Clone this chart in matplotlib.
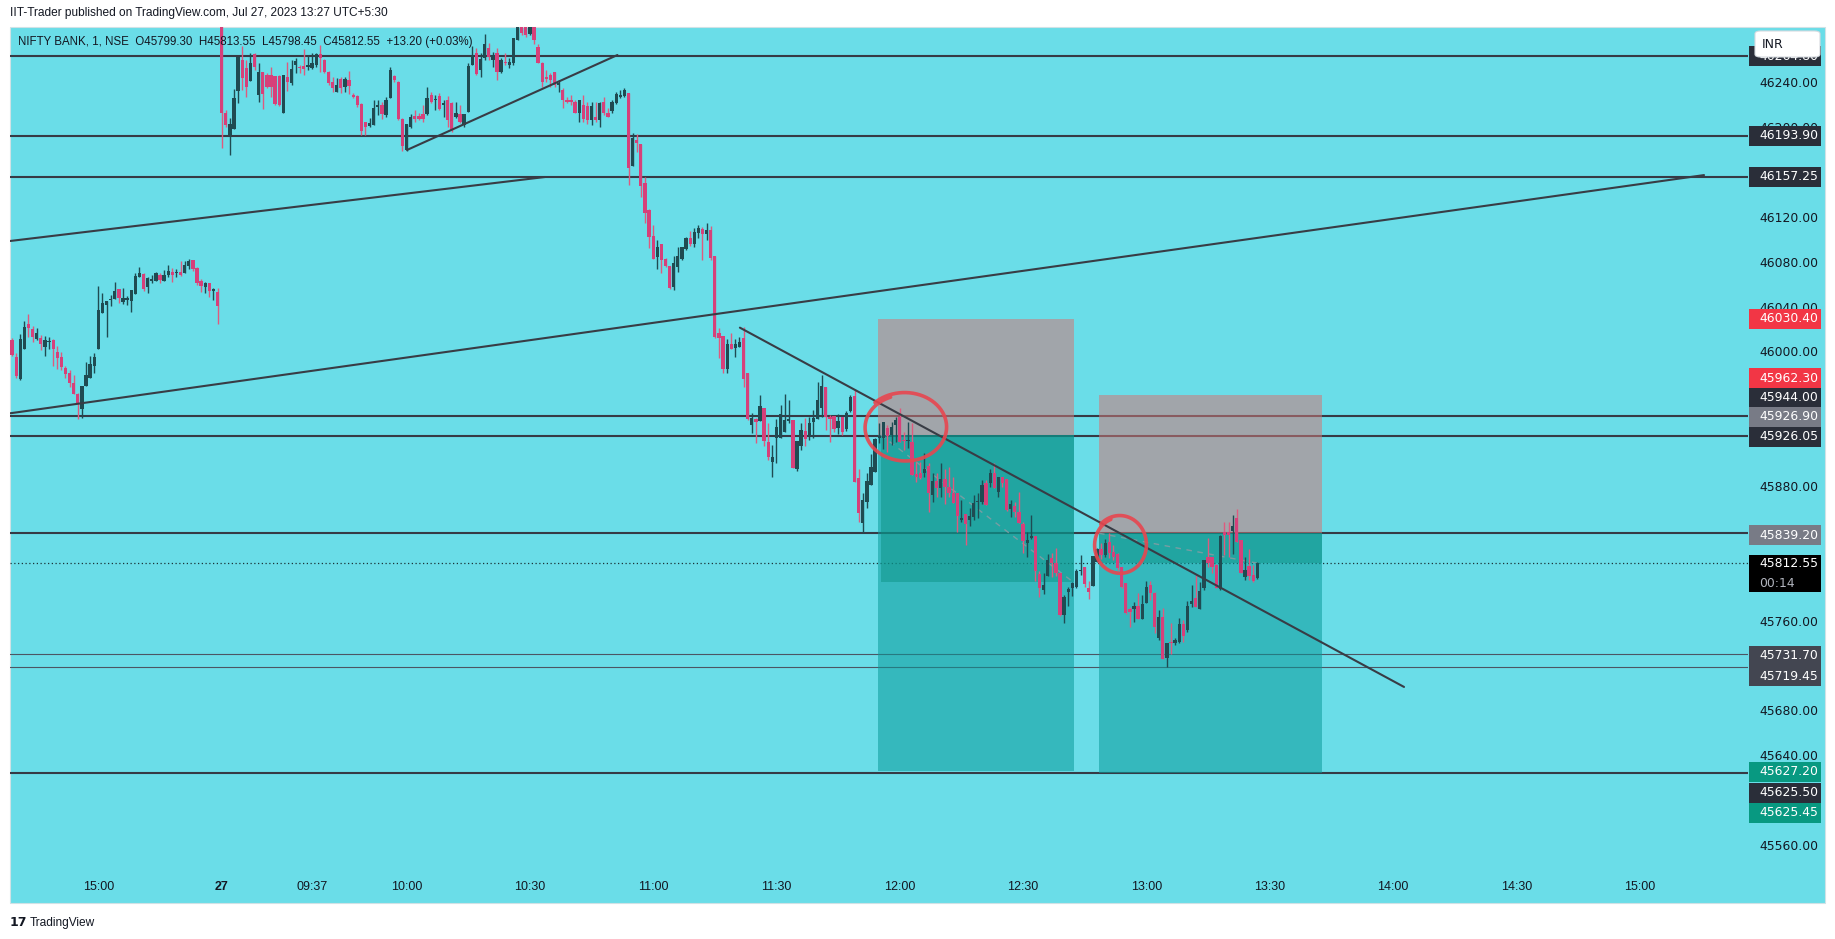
import numpy as np
import matplotlib
matplotlib.use("Agg")
import matplotlib.pyplot as plt
from matplotlib.patches import Rectangle, FancyBboxPatch

# ---------------- data ----------------
# NIFTY BANK 1-minute candles (open, high, low, close)
# 26 Jul, 14:39 - 15:29
prev_day = [
    (46011.5, 46013.0, 45997.0, 45998.2), (45996.1, 45999.7, 45978.0, 45979.5),
    (45976.5, 46016.9, 45976.3, 46012.5), (46003.9, 46028.6, 46003.9, 46022.9),
    (46025.9, 46034.8, 46014.6, 46022.6), (46021.4, 46024.1, 46010.1, 46014.6),
    (46012.5, 46022.3, 46011.6, 46017.6), (46013.7, 46016.1, 46002.7, 46008.0),
    (46005.7, 46015.2, 45997.6, 46011.6), (46010.1, 46014.6, 46003.6, 46011.0),
    (46011.6, 46012.5, 45988.7, 46003.6), (46000.9, 46006.3, 45986.0, 45995.6),
    (45996.5, 46000.6, 45984.6, 45987.5), (45986.6, 45988.7, 45978.0, 45981.3),
    (45981.9, 45984.9, 45970.0, 45973.6), (45973.0, 45980.4, 45963.5, 45963.5),
    (45963.5, 45964.0, 45941.4, 45954.2), (45949.8, 45970.6, 45942.0, 45970.6),
    (45970.9, 45992.0, 45970.9, 45980.4), (45977.4, 45997.3, 45977.4, 45990.2),
    (45988.4, 45999.7, 45982.5, 45996.5), (46003.9, 46059.8, 46003.9, 46038.4),
    (46036.0, 46053.2, 46036.0, 46044.3), (46042.8, 46046.4, 46014.6, 46046.4),
    (46047.6, 46051.4, 46042.2, 46048.2), (46048.5, 46063.3, 46048.5, 46055.3),
    (46056.8, 46056.8, 46044.9, 46049.4), (46045.5, 46057.7, 46043.7, 46049.1),
    (46047.6, 46050.9, 46043.1, 46049.1), (46046.7, 46055.9, 46036.9, 46055.9),
    (46052.9, 46071.1, 46052.9, 46068.7), (46068.1, 46076.7, 46067.5, 46071.4),
    (46070.8, 46071.1, 46055.6, 46057.4), (46058.6, 46067.8, 46053.8, 46066.9),
    (46064.5, 46069.6, 46062.2, 46065.7), (46064.5, 46072.3, 46064.5, 46071.1),
    (46069.9, 46071.1, 46062.7, 46064.8), (46063.9, 46074.0, 46063.9, 46069.6),
    (46069.9, 46078.8, 46068.1, 46073.2), (46072.6, 46075.8, 46063.6, 46069.3),
    (46071.4, 46075.2, 46068.1, 46072.6), (46072.3, 46082.1, 46068.4, 46069.9),
    (46071.1, 46082.1, 46071.1, 46078.5), (46077.9, 46083.6, 46075.2, 46082.1),
    (46083.0, 46083.0, 46073.4, 46075.2), (46075.8, 46076.7, 46060.7, 46062.7),
    (46064.2, 46065.7, 46054.7, 46060.1), (46058.6, 46063.3, 46053.8, 46062.7),
    (46062.4, 46062.7, 46049.7, 46055.0), (46055.0, 46058.0, 46047.3, 46057.4),
    (46054.4, 46058.3, 46025.6, 46042.2),
]

# 27 Jul, 09:15 - 13:27
today = [
    (46318.0, 46330.0, 46183.2, 46213.9), (46213.9, 46216.8, 46202.0, 46203.4),
    (46194.5, 46210.0, 46176.7, 46204.0), (46199.6, 46235.3, 46199.6, 46227.8),
    (46233.8, 46263.8, 46223.4, 46263.8), (46261.4, 46273.9, 46234.7, 46245.1),
    (46254.0, 46261.4, 46228.7, 46237.6), (46242.7, 46267.4, 46242.7, 46258.4),
    (46266.5, 46267.4, 46252.5, 46255.5), (46230.2, 46258.4, 46224.3, 46250.4),
    (46250.4, 46251.0, 46217.4, 46231.1), (46248.0, 46249.5, 46236.1, 46237.6),
    (46248.0, 46255.5, 46228.1, 46237.6), (46247.5, 46247.5, 46221.3, 46221.9),
    (46247.2, 46248.0, 46220.4, 46221.3), (46214.4, 46248.0, 46214.4, 46248.0),
    (46246.6, 46259.9, 46233.8, 46241.5), (46240.6, 46261.4, 46239.1, 46253.1),
    (46257.0, 46262.9, 46249.5, 46260.8), (46254.6, 46257.0, 46249.5, 46254.0),
    (46256.1, 46271.0, 46248.0, 46253.4), (46255.5, 46265.9, 46252.5, 46257.0),
    (46254.0, 46267.4, 46253.1, 46259.0), (46257.0, 46268.0, 46255.5, 46266.5),
    (46266.8, 46274.8, 46251.0, 46262.9), (46261.4, 46262.0, 46249.5, 46251.0),
    (46251.0, 46251.6, 46239.1, 46240.6), (46242.1, 46246.6, 46233.2, 46236.1),
    (46233.2, 46245.1, 46232.6, 46239.1), (46244.2, 46246.6, 46231.7, 46236.1),
    (46237.6, 46246.6, 46233.2, 46244.2), (46243.6, 46251.6, 46231.1, 46238.2),
    (46230.2, 46231.7, 46227.8, 46228.7), (46229.3, 46230.2, 46219.8, 46221.3),
    (46222.2, 46222.8, 46194.5, 46198.1), (46205.8, 46206.4, 46194.5, 46202.0),
    (46202.6, 46209.4, 46202.0, 46205.5), (46203.4, 46225.7, 46203.4, 46218.3),
    (46219.2, 46225.7, 46212.4, 46221.3), (46221.3, 46224.3, 46208.5, 46213.3),
    (46212.4, 46228.7, 46210.9, 46225.7), (46227.8, 46255.5, 46227.2, 46252.5),
    (46247.2, 46248.0, 46242.1, 46243.6), (46241.8, 46243.0, 46207.9, 46208.5),
    (46208.8, 46209.4, 46180.6, 46184.7), (46181.2, 46204.0, 46180.6, 46204.0),
    (46202.0, 46213.0, 46200.5, 46210.9), (46211.8, 46216.8, 46206.4, 46208.5),
    (46211.5, 46214.4, 46207.9, 46208.5), (46213.0, 46221.3, 46206.4, 46209.1),
    (46213.0, 46237.6, 46212.4, 46227.2), (46230.2, 46233.2, 46222.8, 46224.3),
    (46225.4, 46230.2, 46216.8, 46226.6), (46229.3, 46231.7, 46216.8, 46217.4),
    (46221.3, 46225.7, 46210.9, 46223.4), (46225.7, 46229.3, 46201.4, 46207.9),
    (46222.8, 46224.3, 46197.5, 46199.0), (46210.9, 46224.3, 46209.4, 46214.4),
    (46213.3, 46221.3, 46204.9, 46206.4), (46203.1, 46213.0, 46202.0, 46213.0),
    (46215.3, 46258.4, 46215.3, 46256.1), (46257.0, 46273.9, 46257.0, 46265.9),
    (46267.4, 46271.8, 46248.0, 46248.6), (46252.5, 46267.4, 46246.6, 46262.3),
    (46262.9, 46284.3, 46261.4, 46275.4), (46271.8, 46276.3, 46261.4, 46263.8),
    (46261.4, 46268.9, 46255.5, 46265.9), (46267.4, 46271.8, 46243.6, 46251.0),
    (46251.0, 46262.9, 46249.5, 46261.4), (46259.9, 46267.4, 46257.0, 46258.4),
    (46257.0, 46262.9, 46254.0, 46259.9), (46258.4, 46280.7, 46257.0, 46280.7),
    (46279.3, 46300.0, 46279.3, 46296.0), (46298.0, 46302.0, 46284.0, 46285.2),
    (46292.0, 46296.0, 46282.0, 46283.7), (46285.0, 46296.0, 46284.0, 46292.0),
    (46295.0, 46299.0, 46276.0, 46279.3), (46273.3, 46275.7, 46258.4, 46259.0),
    (46259.0, 46259.9, 46237.6, 46242.1), (46246.6, 46252.5, 46242.1, 46244.2),
    (46248.0, 46249.5, 46237.6, 46243.6), (46251.0, 46251.0, 46237.6, 46239.1),
    (46239.1, 46243.6, 46233.2, 46240.6), (46234.7, 46236.1, 46218.3, 46225.7),
    (46225.7, 46228.7, 46222.8, 46224.3), (46225.7, 46230.2, 46221.3, 46224.3),
    (46224.3, 46225.7, 46213.9, 46214.4), (46213.9, 46225.7, 46206.4, 46225.7),
    (46221.3, 46230.2, 46206.4, 46208.8), (46220.4, 46224.3, 46204.3, 46207.9),
    (46207.9, 46224.3, 46203.4, 46220.4), (46210.9, 46224.3, 46206.4, 46207.9),
    (46207.9, 46224.3, 46202.0, 46223.4), (46224.3, 46228.7, 46212.4, 46213.9),
    (46214.4, 46218.3, 46210.3, 46210.9), (46216.2, 46225.7, 46214.4, 46224.3),
    (46222.8, 46233.2, 46222.2, 46231.1), (46228.7, 46234.7, 46227.2, 46230.2),
    (46229.3, 46236.1, 46228.7, 46234.7), (46231.6, 46231.6, 46149.8, 46164.7),
    (46167.1, 46195.9, 46167.1, 46191.5), (46190.0, 46195.3, 46179.6, 46187.6),
    (46186.4, 46186.4, 46139.4, 46149.0), (46151.9, 46157.3, 46116.3, 46125.2),
    (46127.6, 46128.1, 46094.0, 46103.8), (46104.4, 46114.2, 46083.8, 46083.8),
    (46085.3, 46100.8, 46074.9, 46094.9), (46097.2, 46097.2, 46071.7, 46083.0),
    (46083.8, 46084.4, 46077.0, 46077.6), (46077.6, 46077.6, 46057.1, 46057.7),
    (46059.2, 46086.5, 46056.2, 46080.0), (46076.4, 46094.9, 46072.6, 46086.5),
    (46083.8, 46094.9, 46083.0, 46094.3), (46092.5, 46103.8, 46091.9, 46102.9),
    (46102.3, 46108.8, 46095.7, 46097.2), (46097.2, 46111.2, 46094.9, 46107.9),
    (46106.7, 46114.2, 46102.3, 46111.5), (46110.6, 46112.7, 46083.0, 46105.9),
    (46106.1, 46115.7, 46100.8, 46109.7), (46109.7, 46113.3, 46083.0, 46084.4),
    (46086.5, 46086.5, 46013.1, 46014.6), (46017.5, 46022.0, 45995.3, 46013.7),
    (46015.2, 46015.2, 45982.5, 45985.7), (45985.7, 46012.2, 45981.9, 46008.0),
    (46008.0, 46017.5, 46003.3, 46003.9), (46004.2, 46012.2, 45996.7, 46007.7),
    (46005.7, 46014.6, 46005.1, 46010.1), (46013.7, 46022.9, 45970.0, 45976.5),
    (45981.9, 45981.9, 45940.3, 45941.1), (45935.8, 45946.8, 45929.0, 45942.3),
    (45941.1, 45941.7, 45920.0, 45938.8), (45939.6, 45962.6, 45939.6, 45952.8),
    (45950.6, 45950.6, 45917.1, 45921.8), (45920.6, 45937.9, 45904.6, 45907.5),
    (45903.1, 45917.9, 45889.7, 45907.5), (45924.1, 45941.4, 45902.2, 45934.4),
    (45924.1, 45953.8, 45924.1, 45945.8), (45929.9, 45963.5, 45929.9, 45940.3),
    (45939.6, 45958.1, 45937.3, 45941.1), (45940.3, 45940.3, 45897.1, 45897.7),
    (45896.5, 45921.5, 45895.1, 45921.5), (45917.4, 45937.3, 45913.5, 45931.4),
    (45930.5, 45942.3, 45917.1, 45923.0), (45926.0, 45942.6, 45922.4, 45937.9),
    (45938.8, 45949.2, 45923.9, 45942.3), (45940.9, 45974.4, 45940.9, 45958.1),
    (45950.6, 45980.4, 45942.6, 45970.6), (45970.0, 45970.0, 45931.4, 45943.2),
    (45943.2, 45944.7, 45920.9, 45940.9), (45943.8, 45943.8, 45929.9, 45931.9),
    (45932.8, 45945.6, 45927.8, 45939.6), (45942.6, 45942.6, 45926.9, 45929.9),
    (45931.9, 45948.6, 45930.8, 45946.8), (45948.3, 45962.6, 45947.7, 45960.3),
    (45961.7, 45967.6, 45885.3, 45885.3), (45888.8, 45896.5, 45849.6, 45857.0),
    (45848.7, 45875.4, 45839.2, 45868.9), (45867.4, 45893.3, 45861.5, 45885.8),
    (45882.3, 45909.9, 45882.3, 45898.6), (45894.2, 45923.9, 45894.2, 45923.3),
    (45923.9, 45937.3, 45920.0, 45926.0), (45923.9, 45938.2, 45914.1, 45938.2),
    (45932.8, 45935.8, 45912.0, 45926.0), (45926.9, 45938.8, 45917.9, 45933.7),
    (45935.8, 45942.6, 45920.9, 45940.3), (45942.6, 45950.6, 45920.9, 45920.9),
    (45922.4, 45929.8, 45913.5, 45921.8), (45921.8, 45938.8, 45915.0, 45922.4),
    (45920.9, 45937.3, 45891.2, 45891.2), (45892.1, 45903.1, 45885.2, 45889.1),
    (45892.7, 45903.1, 45887.3, 45888.2), (45892.7, 45910.5, 45889.7, 45896.5),
    (45899.2, 45901.6, 45858.5, 45874.8), (45873.4, 45892.7, 45867.4, 45886.1),
    (45886.1, 45892.7, 45871.9, 45879.3), (45879.3, 45902.2, 45871.3, 45887.6),
    (45887.6, 45896.2, 45865.3, 45880.8), (45880.8, 45898.0, 45871.9, 45874.8),
    (45874.8, 45889.1, 45865.9, 45866.5), (45874.8, 45875.4, 45840.1, 45854.9),
    (45851.0, 45868.9, 45849.6, 45852.5), (45856.4, 45856.4, 45828.7, 45847.2),
    (45851.0, 45861.5, 45846.0, 45854.6), (45853.4, 45873.4, 45851.0, 45865.9),
    (45866.8, 45874.8, 45852.5, 45868.3), (45867.4, 45886.7, 45865.3, 45882.3),
    (45883.8, 45886.7, 45864.4, 45864.4), (45884.4, 45896.2, 45880.8, 45893.3),
    (45893.3, 45901.6, 45879.9, 45879.9), (45876.3, 45889.7, 45871.3, 45889.7),
    (45889.1, 45889.7, 45880.2, 45884.4), (45887.3, 45887.3, 45859.4, 45860.0),
    (45860.9, 45868.9, 45854.0, 45865.3), (45863.8, 45867.4, 45854.0, 45857.9),
    (45858.5, 45876.3, 45848.1, 45848.7), (45847.5, 45849.6, 45821.3, 45832.6),
    (45830.3, 45840.6, 45818.4, 45833.2), (45834.7, 45855.5, 45833.8, 45836.8),
    (45836.8, 45836.8, 45796.9, 45805.9), (45802.9, 45805.9, 45782.1, 45790.7),
    (45788.7, 45803.5, 45785.0, 45793.1), (45801.4, 45820.7, 45801.1, 45815.4),
    (45817.5, 45821.3, 45800.5, 45812.4), (45812.4, 45825.8, 45801.1, 45804.1),
    (45803.5, 45803.5, 45765.4, 45766.3), (45766.3, 45784.2, 45758.9, 45782.1),
    (45786.7, 45791.6, 45774.4, 45789.2), (45790.1, 45796.0, 45783.3, 45795.1),
    (45791.6, 45807.0, 45790.1, 45805.5), (45805.5, 45819.8, 45801.9, 45806.1),
    (45809.4, 45809.4, 45791.6, 45793.7), (45790.1, 45796.6, 45780.3, 45787.1),
    (45792.2, 45818.9, 45792.2, 45818.9), (45813.9, 45825.8, 45813.9, 45824.9),
    (45824.9, 45830.2, 45816.0, 45819.8), (45819.8, 45833.8, 45818.3, 45830.2),
    (45831.4, 45839.2, 45816.9, 45821.9), (45822.8, 45828.7, 45815.4, 45818.3),
    (45820.4, 45821.3, 45806.4, 45807.9), (45809.4, 45809.4, 45790.1, 45791.0),
    (45794.6, 45794.6, 45767.2, 45767.8), (45771.6, 45773.7, 45755.3, 45769.3),
    (45771.3, 45778.2, 45760.3, 45774.3), (45774.6, 45786.2, 45762.7, 45762.7),
    (45762.4, 45784.2, 45762.4, 45776.1), (45776.7, 45796.6, 45776.7, 45791.6),
    (45793.1, 45796.6, 45779.7, 45785.6), (45785.6, 45787.1, 45750.6, 45755.9),
    (45745.5, 45770.8, 45744.0, 45764.8), (45764.8, 45772.3, 45726.8, 45726.8),
    (45727.7, 45741.6, 45720.2, 45741.6), (45742.5, 45758.9, 45731.5, 45741.0),
    (45741.0, 45745.5, 45739.5, 45744.0), (45742.5, 45763.3, 45741.6, 45758.3),
    (45758.3, 45761.8, 45742.5, 45747.6), (45753.0, 45779.1, 45751.5, 45774.6),
    (45776.1, 45793.1, 45773.7, 45779.1), (45781.2, 45802.0, 45773.7, 45773.7),
    (45771.3, 45796.0, 45771.3, 45788.0), (45790.1, 45815.4, 45788.6, 45815.4),
    (45817.7, 45834.7, 45809.4, 45812.4), (45817.7, 45818.3, 45803.5, 45809.4),
    (45810.9, 45811.8, 45790.1, 45790.1), (45789.2, 45837.7, 45788.6, 45836.8),
    (45840.6, 45849.6, 45819.8, 45837.7), (45840.6, 45849.6, 45818.3, 45837.7),
    (45841.5, 45855.5, 45820.7, 45845.7), (45852.5, 45860.6, 45831.7, 45831.7),
    (45833.2, 45833.2, 45803.5, 45804.1), (45799.9, 45818.3, 45797.2, 45806.4),
    (45810.0, 45824.9, 45797.5, 45801.1), (45802.0, 45810.9, 45796.0, 45796.9),
    (45799.30, 45813.55, 45798.45, 45812.55),
]

last_price = 45812.55

# horizontal ray levels
h_levels = [46264.80, 46193.90, 46157.25, 45944.00, 45926.05, 45839.20, 45625.50]
thin_levels = [45731.70, 45719.45]

# trend lines: (bar index, price) -> (bar index, price); bar 0 = 27 Jul 09:15
trend_lines = [
    ((-51.5, 46099.9), (78.7, 46157.0)),
    ((-51.5, 45946.2), (360.7, 46158.7)),
    ((45.1, 46181.1), (96.3, 46265.8)),
    ((126.1, 46022.6), (287.7, 45702.1)),
]

# short position tools
positions = [
    dict(start=159.6, fill_start=160.4, end=207.4, entry=45926.90, stop=46030.40,
         target=45627.20, current=45795.7, path_end=207.2),
    dict(start=213.5, fill_start=213.5, end=267.8, entry=45839.20, stop=45962.30,
         target=45625.45, current=45812.55, path_end=252.0),
]

# hand drawn circles: centre (bar, price), half width (bars), half height (price)
circles = [(166.3, 45935.1, 9.6, 29.0), (218.6, 45830.0, 6.1, 24.5)]

# price axis badges: (value, style)
badges = [
    (46264.80, "dark"), (46193.90, "dark"), (46157.25, "dark"), (46030.40, "red"),
    (45962.30, "red"), (45944.00, "dark"), (45926.90, "gray"), (45926.05, "dark"),
    (45839.20, "gray"), (45731.70, "slate"), (45719.45, "slate"),
    (45627.20, "green"), (45625.50, "dark"), (45625.45, "green"),
]
# vertical display shift of stacked badges (pixels, + = down)
badge_shift_px = {45962.30: -17, 45944.00: -18, 45926.90: -18, 45926.05: 1,
                  45839.20: 2, 45731.70: 2, 45719.45: 9,
                  45627.20: 1, 45625.50: 20, 45625.45: 40}

price_ticks = np.arange(45560, 46281, 40)
time_ticks = [(-30, "15:00"), (0, "27"), (22, "09:37"), (45, "10:00"), (75, "10:30"),
              (105, "11:00"), (135, "11:30"), (165, "12:00"), (195, "12:30"),
              (225, "13:00"), (255, "13:30"), (285, "14:00"), (315, "14:30"),
              (345, "15:00")]

# ---------------- style ----------------
BG = "#6adde8"
UP = "#1f4b52"
DOWN = "#d6407a"
DOWN_WICK = "#df5a7e"
LINE = "#363a45"
BADGE = {"dark": "#2a2e39", "red": "#f23645", "gray": "#787b86",
         "slate": "#434651", "green": "#089981"}
SANS = ["Liberation Sans", "DejaVu Sans"]

W, H = 1835, 939
PL, PR, PT, PB = 10, 1748, 27, 870          # chart pane in pixels
XMIN, XMAX = -51.5, 371.4
YMIN, YMAX = 45538.8, 46290.8
PPU = (PB - PT) / (YMAX - YMIN)             # pixels per price unit


def fx(px):
    return px / W


def fy(py):
    return 1 - py / H


def axfrac(px):
    return (px - PL) / (PR - PL)


fig = plt.figure(figsize=(W / 100, H / 100), dpi=100)
fig.patch.set_facecolor("white")
fig.patches.append(Rectangle((fx(10), fy(903)), fx(1825 - 10), (903 - 27) / H,
                             transform=fig.transFigure, facecolor=BG,
                             edgecolor="#d0e2e6", lw=0.8, zorder=-5))

ax = fig.add_axes([fx(PL), fy(PB), fx(PR - PL), (PB - PT) / H])
ax.set_zorder(2)
ax.set_xlim(XMIN, XMAX)
ax.set_ylim(YMIN, YMAX)
ax.axis("off")

# horizontal levels
for lv in h_levels:
    ax.axhline(lv, color=LINE, lw=1.5, zorder=1)
for lv in thin_levels:
    ax.axhline(lv, color="#4c5563", lw=0.8, zorder=1)
ax.axhline(last_price, color="#1a3338", lw=0.9, ls=(0, (1, 2)), zorder=1)

# position boxes
for p in positions:
    w = p["end"] - p["start"]
    ax.add_patch(Rectangle((p["start"], p["entry"]), w, p["stop"] - p["entry"],
                           facecolor="#cf7878", alpha=0.55, lw=0, zorder=2))
    ax.add_patch(Rectangle((p["start"], p["target"]), w, p["entry"] - p["target"],
                           facecolor="#0a9a9a", alpha=0.55, lw=0, zorder=2))
    ax.add_patch(Rectangle((p["fill_start"], p["current"]), p["end"] - p["fill_start"],
                           p["entry"] - p["current"], facecolor="#0a8f80",
                           alpha=0.45, lw=0, zorder=2))
    ax.plot([p["fill_start"], p["path_end"]], [p["entry"], p["current"]],
            color="#8c9ca3", lw=1.0, ls=(0, (4, 4)), alpha=0.8, zorder=2.5)

# candles
bars = np.array(prev_day + today)
idx = np.arange(-len(prev_day), len(today))
o, h, l, c = bars.T
up = c >= o
ax.vlines(idx, l, h, colors=np.where(up, UP, DOWN_WICK), lw=1.0, zorder=4)
ax.bar(idx, np.maximum(np.abs(c - o), 0.9), width=0.8, bottom=np.minimum(o, c),
       color=np.where(up, UP, DOWN), lw=0, zorder=5)

# trend lines
for (x0, y0), (x1, y1) in trend_lines:
    ax.plot([x0, x1], [y0, y1], color="#383c45", lw=1.5, zorder=6,
            solid_capstyle="round")

# hand drawn circles
for cx, cy, rx, ry in circles:
    t = np.linspace(0.62 * np.pi, 2.75 * np.pi, 240)
    grow = 1 + 0.08 * (t - t[0]) / (t[-1] - t[0])
    ax.plot(cx + rx * grow * np.cos(t), cy + ry * grow * np.sin(t) - ry * 0.05,
            color="#e8464f", lw=2.6, alpha=0.9, zorder=7, solid_capstyle="round")

# price axis labels
ytr = ax.get_yaxis_transform()
for v in price_ticks:
    ax.text(axfrac(1759), v, f"{v:.2f}", transform=ytr, ha="left", va="center",
            fontsize=8.9, color="#131722", clip_on=False, zorder=8)

for v, style in badges:
    yc = v - badge_shift_px.get(v, 0) / PPU
    ax.add_patch(Rectangle((axfrac(1749), yc - 10 / PPU), axfrac(1821) - axfrac(1749),
                           20 / PPU, transform=ytr, facecolor=BADGE[style], lw=0,
                           clip_on=False, zorder=9))
    ax.text(axfrac(1759), yc, f"{v:.2f}", transform=ytr, ha="left", va="center",
            fontsize=8.9, color="white", clip_on=False, zorder=10)

# last price badge with countdown
ax.add_patch(Rectangle((axfrac(1749), last_price - 29 / PPU), axfrac(1821) - axfrac(1749),
                       37 / PPU, transform=ytr, facecolor="black", lw=0,
                       clip_on=False, zorder=9))
ax.text(axfrac(1759), last_price, f"{last_price:.2f}", transform=ytr, ha="left",
        va="center", fontsize=8.9, color="white", clip_on=False, zorder=10)
ax.text(axfrac(1759), last_price - 20 / PPU, "00:14", transform=ytr, ha="left",
        va="center", fontsize=8.9, color="#b2b5be", clip_on=False, zorder=10)

# currency box (drawn above the axes)
ax.add_patch(FancyBboxPatch((fx(1755), fy(57)), fx(65), 26 / H,
                            boxstyle="round,pad=0,rounding_size=0.003",
                            transform=fig.transFigure, facecolor="white",
                            edgecolor="#d6dbe0", lw=0.8, zorder=11, clip_on=False))
ax.text(fx(1762), fy(44), "INR", fontsize=9, color="#131722", va="center",
        ha="left", zorder=12, transform=fig.transFigure, clip_on=False)

# time axis
xtr = ax.get_xaxis_transform()
for i, lab in time_ticks:
    ax.text(i, -(887 - PB) / (PB - PT), lab, transform=xtr, ha="center", va="center",
            fontsize=9, family=SANS, color="#131722", clip_on=False,
            fontweight="bold" if lab == "27" else "normal")

# header and legend
fig.text(fx(10), fy(13), "IIT-Trader published on TradingView.com, Jul 27, 2023 13:27 UTC+5:30",
         fontsize=8.6, family=SANS, color="#131722", ha="left", va="center")
ax.text(fx(18), fy(42),
        "NIFTY BANK, 1, NSE  O45799.30  H45813.55  L45798.45  C45812.55  +13.20 (+0.03%)",
        fontsize=8.3, family=SANS, color="#131722", ha="left", va="center", zorder=12,
        transform=fig.transFigure, clip_on=False)

# footer logo
fig.text(fx(10), fy(923), "17", fontsize=9, fontweight="bold", color="#131722",
         ha="left", va="center")
fig.text(fx(30), fy(923), "TradingView", fontsize=8.6, family=SANS, color="#131722",
         ha="left", va="center")

fig.savefig("out.png", dpi=100, facecolor="white")
